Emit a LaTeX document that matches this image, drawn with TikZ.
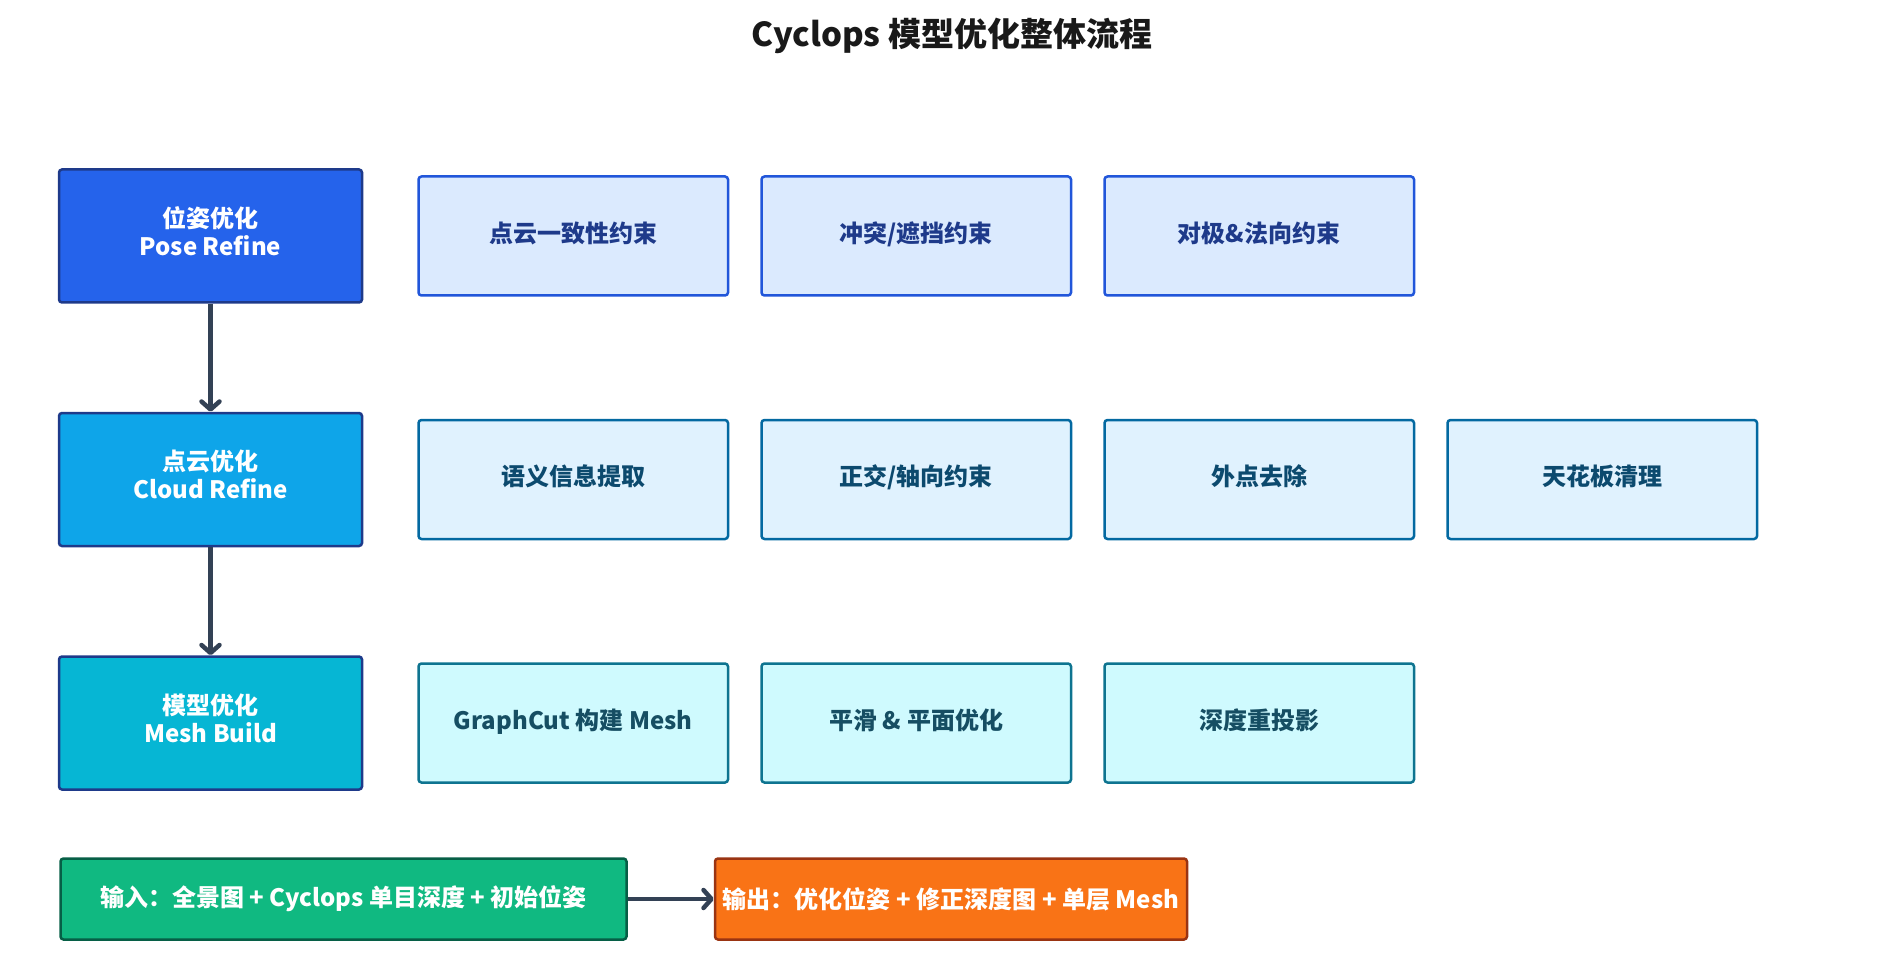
\documentclass[tikz,border=0pt]{standalone}
\usepackage{fontspec}
\setmainfont{Noto Sans CJK SC}
\usetikzlibrary{arrows.meta,%
                positioning}

\definecolor{navy}{HTML}{1E3A8A}
\definecolor{poseblue}{HTML}{2563EB}
\definecolor{cloudblue}{HTML}{0EA5E9}
\definecolor{meshcyan}{HTML}{06B6D4}
\definecolor{slate}{HTML}{334155}

\begin{document}
\begin{tikzpicture}[x=1pt, y=-1pt]
  \tikzstyle{every node} = [font = \bfseries\fontsize{24}{28}\selectfont,
                            inner sep = 2pt,
                            rounded corners = 3pt]
  \tikzstyle{stage} = [draw = navy, line width = 2.5pt, text = white, align = center,
                       text depth = 10pt,
                       minimum width = 303pt, minimum height = 133pt]
  \tikzstyle{task} = [line width = 2.5pt, text depth = 8pt,
                      minimum width = 309.5pt, minimum height = 119pt]
  \tikzstyle{poseTask} = [task, draw = {rgb,255:red,33;green,86;blue,218},
                          fill = {rgb,255:red,219;green,234;blue,254}, text = navy]
  \tikzstyle{cloudTask} = [task, draw = {rgb,255:red,3;green,105;blue,161},
                           fill = {rgb,255:red,224;green,242;blue,254},
                           text = {rgb,255:red,12;green,74;blue,110}]
  \tikzstyle{meshTask} = [task, draw = {rgb,255:red,14;green,116;blue,144},
                          fill = {rgb,255:red,207;green,250;blue,254},
                          text = {rgb,255:red,22;green,78;blue,99}]
  \tikzstyle{io} = [line width = 2.5pt, text = white, minimum height = 81pt]
  \tikzset{flow/.style = {draw = slate, line width = 4.5pt,
                          -{Straight Barb[round, length = 8pt, width = 18pt]}}}

\useasboundingbox (0,0) rectangle (1904,976);

\node[font = \bfseries\fontsize{33}{40}\selectfont, text = black!90] (T) at (952,36)
  {Cyclops 模型优化整体流程};

\node[stage, fill = poseblue] (A0) at (210.5,236) {位姿优化\\Pose Refine};
\node[stage, fill = cloudblue, below = 108pt of A0] (B0) {点云优化\\Cloud Refine};
\node[stage, fill = meshcyan, below = 108pt of B0] (C0) {模型优化\\Mesh Build};

\node[poseTask, right = 54pt of A0] (A1) {点云一致性约束};
\node[poseTask, right = 31pt of A1] (A2) {冲突/遮挡约束};
\node[poseTask, right = 31pt of A2] (A3) {对极\&法向约束};

\node[cloudTask, right = 54pt of B0] (B1) {语义信息提取};
\node[cloudTask, right = 31pt of B1] (B2) {正交/轴向约束};
\node[cloudTask, right = 31pt of B2] (B3) {外点去除};
\node[cloudTask, right = 31pt of B3] (B4) {天花板清理};

\node[meshTask, right = 54pt of C0] (C1) {GraphCut 构建 Mesh};
\node[meshTask, right = 31pt of C1] (C2) {平滑 \& 平面优化};
\node[meshTask, right = 31pt of C2] (C3) {深度重投影};

\node[io, draw = {rgb,255:red,6;green,95;blue,70}, fill = {rgb,255:red,16;green,185;blue,129},
      minimum width = 566pt] (IN) at (343.5,899)
  {输入：全景图 + Cyclops 单目深度 + 初始位姿};
\node[io, draw = {rgb,255:red,154;green,52;blue,18}, fill = {rgb,255:red,249;green,115;blue,22},
      minimum width = 472pt, right = 86pt of IN] (OUT)
  {输出：优化位姿 + 修正深度图 + 单层 Mesh};

\draw[flow] (A0) -- (B0);
\draw[flow] (B0) -- (C0);
\draw[flow] (IN) -- (OUT);

\end{tikzpicture}
\end{document}
